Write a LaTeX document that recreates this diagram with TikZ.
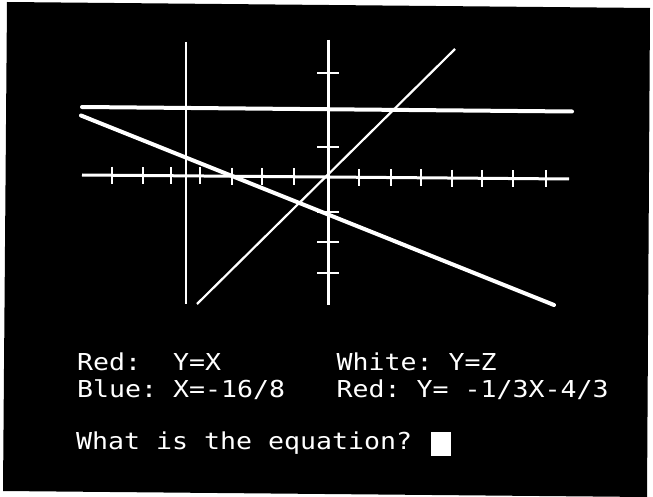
\documentclass[tikz,border=0pt]{standalone}
\usepackage{fontspec}
\newfontfamily\crtfont[FakeStretch=1.14]{DejaVu Sans Mono}
\begin{document}
\begin{tikzpicture}[x=1pt,y=-1pt,
  screen/.style={fill=black},
  axis/.style={white,line width=3pt},
  tick/.style={white,line width=1.6pt},
  graphline/.style={white,line width=#1},
  label/.style={text=white,inner sep=0pt,anchor=base west,font=\crtfont\frenchspacing\fontsize{23.3}{28}\selectfont},
  cursorbox/.style={fill=white,draw=none,minimum width=20pt,minimum height=24pt,inner sep=0pt,anchor=north west}]
\useasboundingbox (0,0) rectangle (653,497);
\fill[white] (0,0) rectangle (653,497);
\fill[screen] (7,2) -- (650,8) -- (647,497) -- (3,491) -- cycle;
% named coordinates
\coordinate (xl) at (82,175);
\coordinate (xr) at (569,179);
\coordinate (yt) at (328,40);
\coordinate (yb) at (328,305);
\coordinate (bt) at (186,42);
\coordinate (bb) at (186,304);
\coordinate (wl) at (82,107);
\coordinate (wr) at (572,111.5);
\coordinate (r1a) at (197,304);
\coordinate (r1b) at (455,49);
\coordinate (r2a) at (81,115.5);
\coordinate (r2b) at (554,305);
% axes
\draw[axis] (xl) -- (xr);
\draw[axis] (yt) -- (yb);
% x ticks
\foreach \t in {112,143,171,200,232,262,294,359,391,421,452,482,513,546}{
  \pgfmathsetmacro{\ty}{175+(\t-82)*4/487}
  \draw[tick] (\t,\ty-8.5) -- (\t,\ty+8.5);
}
% y ticks
\foreach \t in {73,147,212,242,273}{
  \draw[white,line width=2pt] (317,\t) -- (339,\t);
}
% graphs
\draw[graphline=2.5pt] (bt) -- (bb);
\draw[graphline=4pt,line cap=round] (wl) -- (wr);
\draw[graphline=2.2pt] (r1a) -- (r1b);
\draw[graphline=4pt,line cap=round] (r2a) -- (r2b);
% texts
\node[label] (t1) at (77,370) {Red:\ \ Y=X};
\node[label] (t2) at (336.5,370) {White: Y=Z};
\node[label] (t3) at (77,397) {Blue: X=-16/8};
\node[label] (t4) at (336.5,397) {Red: Y= -1/3X-4/3};
\node[label] (t5) at (76,449) {What is the equation?};
\node[cursorbox] (cur) at (431,432) {};
\end{tikzpicture}
\end{document}
